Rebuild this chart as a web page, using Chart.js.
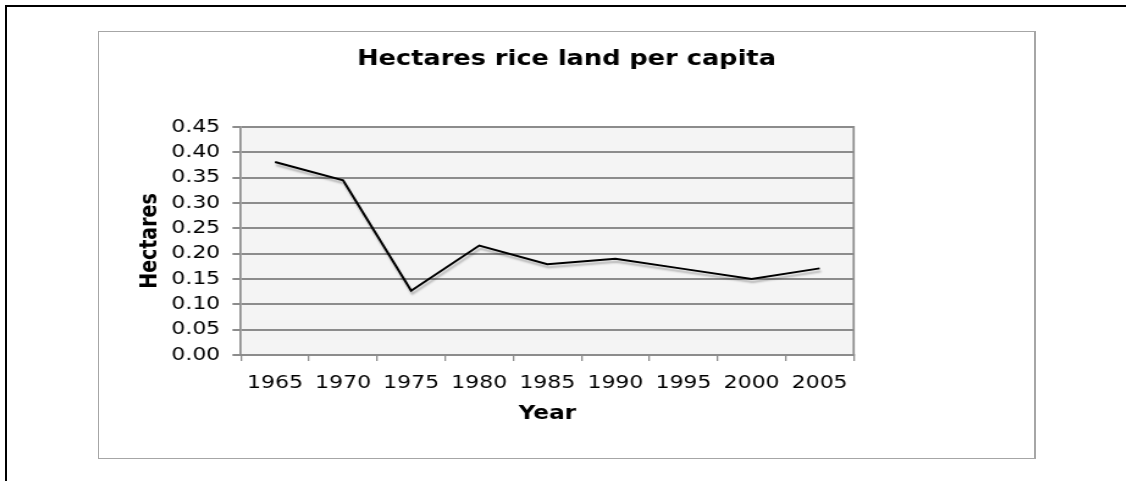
<!DOCTYPE html>
<html>
<head>
    <title>Hectares rice land per capita</title>
    <style>
        body {
            margin: 0;
            background: #fff;
            width: 1126px;
            height: 481px;
            overflow: hidden;
            position: relative;
        }

        .frame {
            position: absolute;
            left: 5px;
            top: 5px;
            width: 1200px;
            height: 600px;
            border-left: 2px solid #000;
            border-top: 2px solid #000;
        }

        .chart-box {
            position: absolute;
            left: 98px;
            top: 31px;
            width: 938px;
            height: 428px;
            box-sizing: border-box;
            border: 1px solid #a6a6a6;
            border-right: 2px solid #a6a6a6;
            background: #fff;
        }

        /* the original picture is stretched sideways, so the canvas is too */
        #chart {
            display: block;
            transform: scaleX(1.2206);
            transform-origin: 0 0;
        }
    </style>
</head>
<body>
    <div class="frame"></div>
    <div class="chart-box">
        <canvas id="chart" width="766" height="426"></canvas>
    </div>
    <script src="https://cdn.jsdelivr.net/npm/chart.js"></script>
    <script>
        // data
        const years = ['1965', '1970', '1975', '1980', '1985', '1990', '1995', '2000', '2005'];
        const hectares = [0.381, 0.345, 0.127, 0.216, 0.179, 0.190, 0.170, 0.150, 0.171];
        const yTickValues = [0, 0.05, 0.10, 0.15, 0.20, 0.25, 0.30, 0.35, 0.40, 0.45];

        const gridColor = '#8c8c8c';
        const fontFamily = '"DejaVu Sans", Verdana, sans-serif';

        // grey plot background + right edge of the plot frame
        const plotFrame = {
            id: 'plotFrame',
            beforeDraw(chart) {
                const a = chart.chartArea;
                const ctx = chart.ctx;
                ctx.save();
                ctx.fillStyle = '#f4f4f4';
                ctx.fillRect(a.left, a.top, a.right - a.left, a.bottom - a.top);
                ctx.restore();
            },
            afterDraw(chart) {
                const a = chart.chartArea;
                const ctx = chart.ctx;
                ctx.save();
                ctx.strokeStyle = gridColor;
                ctx.lineWidth = 1.7;
                ctx.beginPath();
                ctx.moveTo(a.right, a.top - 1);
                ctx.lineTo(a.right, a.bottom + 1);
                ctx.stroke();
                ctx.restore();
            }
        };

        // soft drop shadow under the line, like the original
        const lineShadow = {
            id: 'lineShadow',
            beforeDatasetsDraw(chart) {
                const ctx = chart.ctx;
                ctx.save();
                ctx.shadowColor = 'rgba(0, 0, 0, 0.28)';
                ctx.shadowOffsetX = 1;
                ctx.shadowOffsetY = 3;
                ctx.shadowBlur = 2;
            },
            afterDatasetsDraw(chart) {
                chart.ctx.restore();
            }
        };

        new Chart(document.getElementById('chart').getContext('2d'), {
            type: 'line',
            data: {
                labels: years,
                datasets: [{
                    label: 'Hectares',
                    data: hectares,
                    borderColor: '#000',
                    borderWidth: 2,
                    pointRadius: 0,
                    tension: 0,
                    fill: false
                }]
            },
            options: {
                responsive: false,
                animation: false,
                layout: { padding: 0 },
                plugins: {
                    legend: { display: false },
                    tooltip: { enabled: false },
                    title: {
                        display: true,
                        text: 'Hectares rice land per capita',
                        color: '#000',
                        font: { family: fontFamily, size: 21, weight: 'bold' },
                        padding: { top: 15.4, bottom: 54.4 }
                    }
                },
                scales: {
                    x: {
                        offset: true,
                        grid: {
                            offset: true,
                            drawOnChartArea: false,
                            drawTicks: true,
                            tickLength: 6,
                            color: gridColor,
                            lineWidth: 1.3
                        },
                        border: { color: gridColor, width: 2 },
                        ticks: {
                            color: '#000',
                            padding: 12,
                            maxRotation: 0,
                            autoSkip: false,
                            font: { family: fontFamily, size: 18 }
                        },
                        title: {
                            display: true,
                            text: 'Year',
                            color: '#000',
                            font: { family: fontFamily, size: 19, weight: 'bold' },
                            padding: { top: 0, bottom: 32.6 }
                        },
                        afterFit(scale) { scale.height = 103; }
                    },
                    y: {
                        min: 0,
                        max: 0.45,
                        afterBuildTicks(scale) {
                            scale.ticks = yTickValues.map(v => ({ value: v }));
                        },
                        grid: {
                            color: gridColor,
                            lineWidth: 2,
                            tickLength: 7
                        },
                        border: { color: gridColor, width: 1.7 },
                        ticks: {
                            color: '#000',
                            padding: 10,
                            autoSkip: false,
                            font: { family: fontFamily, size: 18 },
                            callback: v => Number(v).toFixed(2)
                        },
                        title: {
                            display: true,
                            text: 'Hectares',
                            color: '#000',
                            font: { family: fontFamily, size: 19, weight: 'bold' },
                            padding: { top: 30.4, bottom: 0 }
                        },
                        afterFit(scale) { scale.width = 116.3; }
                    },
                    // empty right-hand axis: only keeps the white gap right of the plot
                    gap: {
                        type: 'linear',
                        position: 'right',
                        grid: { display: false, drawTicks: false },
                        border: { display: false },
                        ticks: { display: false },
                        afterFit(scale) { scale.width = 147.7; }
                    }
                }
            },
            plugins: [plotFrame, lineShadow]
        });
    </script>
</body>
</html>
